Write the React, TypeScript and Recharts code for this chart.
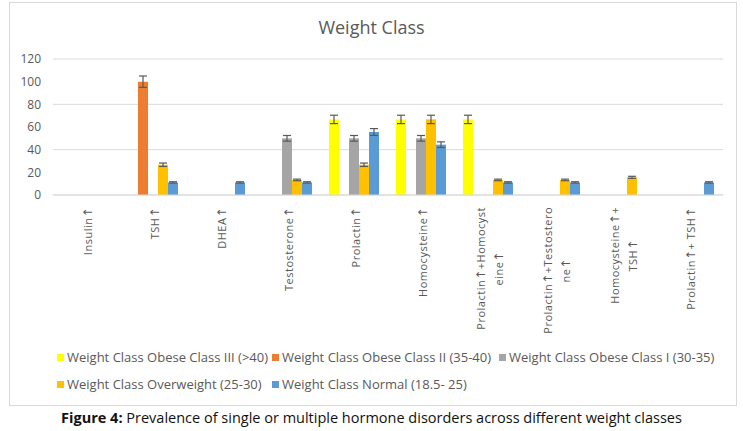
import React from "react";
import {
  Bar,
  BarChart,
  CartesianGrid,
  ErrorBar,
  XAxis,
  YAxis,
} from "recharts";

// categories (hormone disorders)
const categories = [
  "Insulin↑",
  "TSH↑",
  "DHEA↑",
  "Testosterone↑",
  "Prolactin↑",
  "Homocysteine↑",
  "Prolactin↑+Homocysteine↑",
  "Prolactin↑+Testosterone↑",
  "Homocysteine↑+ TSH↑",
  "Prolactin↑+ TSH↑",
];

// tick labels as they wrap in the picture
const tickLines = [
  ["Insulin↑"],
  ["TSH↑"],
  ["DHEA↑"],
  ["Testosterone↑"],
  ["Prolactin↑"],
  ["Homocysteine↑"],
  ["Prolactin↑+Homocyst", "eine↑"],
  ["Prolactin↑+Testostero", "ne↑"],
  ["Homocysteine↑+", "TSH↑"],
  ["Prolactin↑+ TSH↑"],
];

const obeseIII = [null, null, null, null, 66.7, 66.7, 66.7, null, null, null];
const obeseII = [null, 100, null, null, null, null, null, null, null, null];
const obeseI = [null, null, null, 50, 50, 50, null, null, null, null];
const overweight = [null, 26.7, null, 13.3, 26.7, 66.7, 13.3, 13.3, 15.6, null];
const normal = [null, 11.1, 11.1, 11.1, 55.6, 44.4, 11.1, 11.1, null, 11.1];

const obeseIIIErr = [null, null, null, null, 3.7, 3.7, 3.7, null, null, null];
const obeseIIErr = [null, 5, null, null, null, null, null, null, null, null];
const obeseIErr = [null, null, null, 2.5, 2.5, 2.5, null, null, null, null];
const overweightErr = [null, 1.5, null, 0.7, 1.5, 3.7, 0.7, 0.7, 0.9, null];
const normalErr = [null, 0.6, 0.6, 0.6, 3, 2.5, 0.6, 0.6, null, 0.6];

const yTicks = [0, 20, 40, 60, 80, 100, 120];

const series = [
  { key: "obeseIII", name: "Weight Class Obese Class III (>40)", color: "#FFFF00" },
  { key: "obeseII", name: "Weight Class Obese Class II (35-40)", color: "#ED7D31" },
  { key: "obeseI", name: "Weight Class Obese Class I (30-35)", color: "#A5A5A5" },
  { key: "overweight", name: "Weight Class Overweight (25-30)", color: "#FFC000" },
  { key: "normal", name: "Weight Class Normal (18.5- 25)", color: "#5B9BD5" },
];

// legend slot widths, so the entries line up like the figure
const legendWidths = [215, 227, undefined, 215, undefined];

const data = categories.map((c, i) => ({
  category: c,
  obeseIII: obeseIII[i],
  obeseII: obeseII[i],
  obeseI: obeseI[i],
  overweight: overweight[i],
  normal: normal[i],
  obeseIIIErr: obeseIIIErr[i],
  obeseIIErr: obeseIIErr[i],
  obeseIErr: obeseIErr[i],
  overweightErr: overweightErr[i],
  normalErr: normalErr[i],
}));

const GRAY = "#595959";
const LETTER = 0.5;

let ctx: CanvasRenderingContext2D | null = null;
function textWidth(s: string) {
  if (!ctx) ctx = document.createElement("canvas").getContext("2d");
  if (!ctx) return s.length * 6.5;
  let w = 0;
  s.split(/(↑)/).forEach((part) => {
    if (!part) return;
    ctx!.font = part === "↑" ? "12px 'DejaVu Sans'" : "11px 'Open Sans'";
    w += ctx!.measureText(part).width + LETTER * part.length;
  });
  return w;
}

// the arrow is drawn in DejaVu so it comes out wide like in the figure
function labelParts(s: string) {
  return s.split(/(↑)/).map((part, i) =>
    part === "↑" ? (
      <tspan key={i} fontFamily="'DejaVu Sans'" fontSize={12}>
        ↑
      </tspan>
    ) : (
      <tspan key={i}>{part}</tspan>
    )
  );
}

function CategoryTick(props: any) {
  const { x, y, payload } = props;
  const idx = categories.indexOf(payload.value);
  const lines = tickLines[idx] || [payload.value];
  const longest = Math.max(...lines.map(textWidth));
  const top = y + 4;
  const lineH = 18;
  const cx = x + 2 - ((lines.length - 1) * lineH) / 2;
  return (
    <g>
      {lines.map((l, i) => {
        const px = cx + i * lineH;
        const py = lines.length > 1 ? top + longest / 2 : top;
        return (
          <text
            key={i}
            x={0}
            y={0}
            transform={`translate(${px},${py}) rotate(-90)`}
            textAnchor={lines.length > 1 ? "middle" : "end"}
            dy="0.35em"
            fill={GRAY}
            fontFamily="'Open Sans'"
            fontSize={11}
            letterSpacing={LETTER}
          >
            {labelParts(l)}
          </text>
        );
      })}
    </g>
  );
}

export default function App() {
  return (
    <div
      style={{
        position: "absolute",
        left: 0,
        top: 0,
        width: 743,
        height: 431,
        background: "#fff",
        overflow: "hidden",
      }}
    >
      <div
        style={{
          position: "absolute",
          left: 9,
          top: 2,
          width: 726,
          height: 402,
          border: "1px solid #D9D9D9",
        }}
      />
      <div
        style={{
          position: "absolute",
          left: 0,
          top: 15,
          width: 743,
          textAlign: "center",
          fontFamily: "'Open Sans'",
          fontSize: 18,
          color: GRAY,
        }}
      >
        Weight Class
      </div>
      <div style={{ position: "absolute", left: 0, top: 0 }}>
        <BarChart
          width={743}
          height={405}
          data={data}
          margin={{ top: 59, right: 20, left: 0, bottom: 0 }}
          barCategoryGap={8}
          barGap={0}
        >
          <CartesianGrid vertical={false} stroke="#D9D9D9" />
          <XAxis
            dataKey="category"
            interval={0}
            height={210}
            axisLine={{ stroke: "#D9D9D9" }}
            tickLine={false}
            tick={<CategoryTick />}
          />
          <YAxis
            width={53}
            domain={[0, 120]}
            ticks={yTicks}
            axisLine={false}
            tickLine={false}
            tickMargin={6}
            tick={{ fill: GRAY, fontSize: 12, fontFamily: "'Open Sans'" }}
          />
          {series.map((s) => (
            <Bar
              key={s.key}
              dataKey={s.key}
              name={s.name}
              fill={s.color}
              isAnimationActive={false}
            >
              <ErrorBar
                dataKey={`${s.key}Err`}
                width={4}
                stroke={GRAY}
                strokeWidth={1.2}
              />
            </Bar>
          ))}
        </BarChart>
      </div>
      <div
        style={{
          position: "absolute",
          left: 57,
          top: 348,
          width: 680,
          display: "flex",
          flexWrap: "wrap",
          rowGap: 9,
          fontFamily: "'Open Sans'",
          fontSize: 13,
          color: GRAY,
          lineHeight: "18px",
        }}
      >
        {series.map((s, i) => (
          <div
            key={s.key}
            style={{
              display: "flex",
              alignItems: "center",
              width: legendWidths[i],
              whiteSpace: "nowrap",
            }}
          >
            <span
              style={{
                width: 7,
                height: 7,
                background: s.color,
                marginRight: 3,
                display: "inline-block",
              }}
            />
            <span>{s.name}</span>
          </div>
        ))}
      </div>
      <div
        style={{
          position: "absolute",
          left: 0,
          top: 408,
          width: 743,
          textAlign: "center",
          fontFamily: "'Open Sans'",
          fontSize: 14.5,
          color: "#111",
        }}
      >
        <b>Figure 4:</b> Prevalence of single or multiple hormone disorders
        across different weight classes
      </div>
    </div>
  );
}
